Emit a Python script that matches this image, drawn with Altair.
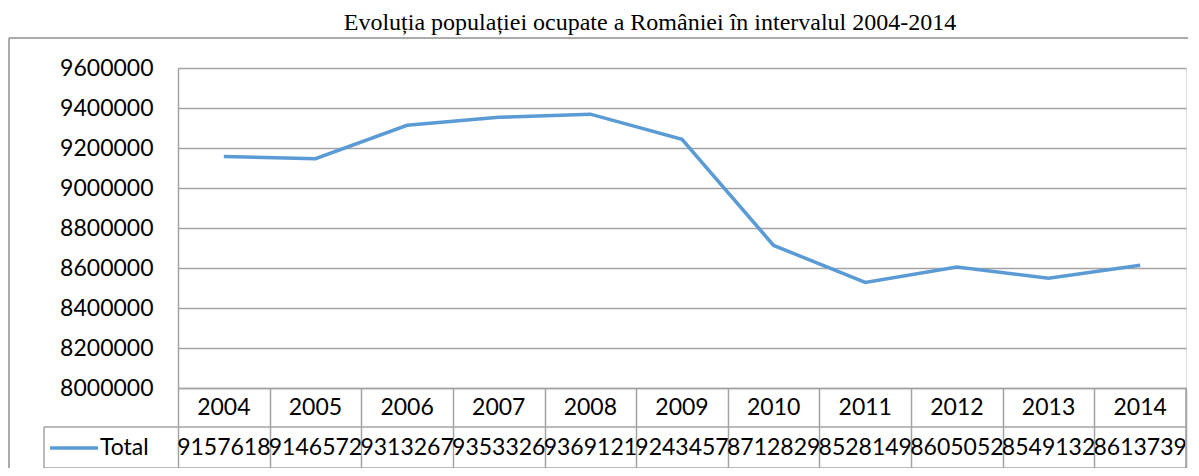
import altair as alt
import pandas as pd

# ---- data ----
years = ["2004", "2005", "2006", "2007", "2008", "2009", "2010", "2011", "2012", "2013", "2014"]
values = [9157618, 9146572, 9313267, 9353326, 9369121, 9243457, 8712829, 8528149, 8605052, 8549132, 8613739]
y_ticks = [8000000, 8200000, 8400000, 8600000, 8800000, 9000000, 9200000, 9400000, 9600000]
series_name = "Total"
title_text = "Evoluția populației ocupate a României în intervalul 2004-2014"

df = pd.DataFrame({"year": years, "value": values, "label": [str(v) for v in values]})
one = pd.DataFrame({"k": [0]})

W, H = 1008, 320
GREY = "#a3a3a3"
FRAME = "#8f8f8f"
BLUE = "#5b9bd5"
FONT = "Lato"
FS = 23

x_enc = alt.X(
    "year:N",
    sort=years,
    scale=alt.Scale(type="band", domain=years, paddingInner=0, paddingOuter=0),
    axis=alt.Axis(
        title=None, labels=False, grid=False,
        domain=True, domainColor=GREY, domainWidth=1.5,
        ticks=True, tickBand="extent", tickSize=80, tickColor=GREY, tickWidth=1.5,
    ),
)
y_enc = alt.Y(
    "value:Q",
    scale=alt.Scale(domain=[8000000, 9600000], nice=False, zero=False),
    axis=alt.Axis(
        values=y_ticks, format="d", title=None,
        grid=True, gridColor=GREY, gridWidth=1.5,
        domain=True, domainColor=GREY, domainWidth=1.5,
        ticks=False, labelPadding=25,
        labelFont=FONT, labelFontSize=FS, labelColor="black",
    ),
)

line = alt.Chart(df).mark_line(color=BLUE, strokeWidth=3.5).encode(x=x_enc, y=y_enc)

header = alt.Chart(df).mark_text(font=FONT, fontSize=FS, baseline="middle", color="black").encode(
    x=alt.X("year:N", sort=years), y=alt.value(340), text="year:N"
)
row = alt.Chart(df).mark_text(font=FONT, fontSize=FS, baseline="middle", color="black").encode(
    x=alt.X("year:N", sort=years), y=alt.value(380), text="label:N"
)

def hline(x0, x1, y, color=GREY, w=1.5):
    return alt.Chart(one).mark_rule(color=color, strokeWidth=w).encode(
        x=alt.value(x0), x2=alt.value(x1), y=alt.value(y)
    )

def vline(x, y0, y1, color=GREY, w=1.5):
    return alt.Chart(one).mark_rule(color=color, strokeWidth=w).encode(
        x=alt.value(x), y=alt.value(y0), y2=alt.value(y1)
    )

table_lines = [
    hline(-134, W, 359),
    hline(-134, W, 400),
    vline(-134, 359, 400),
    vline(W, 320, 400),
]

frame = [
    vline(-169, -30, 410, color=FRAME),
    hline(-169, W + 20, -30, color=FRAME),
]

legend_line = alt.Chart(one).mark_rule(color=BLUE, strokeWidth=3.5).encode(
    x=alt.value(-128), x2=alt.value(-80), y=alt.value(380)
)
legend_text = alt.Chart(one).mark_text(font=FONT, fontSize=FS, align="left", baseline="middle", color="black").encode(
    x=alt.value(-78), y=alt.value(380), text=alt.value(series_name)
)

title = alt.Chart(one).mark_text(font="Liberation Serif", fontSize=24, align="center", baseline="alphabetic", color="black").encode(
    x=alt.value(472), y=alt.value(-38), text=alt.value(title_text)
)

chart = alt.layer(
    line, header, row, *table_lines, *frame, legend_line, legend_text, title
).resolve_scale(x="shared").properties(
    width=W, height=H,
    autosize=alt.AutoSizeParams(type="none"),
    padding={"left": 170, "top": 60, "right": 2, "bottom": 80},
).configure_view(stroke=None).configure(background="white")

chart.save("out.html", embed_options={"renderer": "svg", "actions": False})
